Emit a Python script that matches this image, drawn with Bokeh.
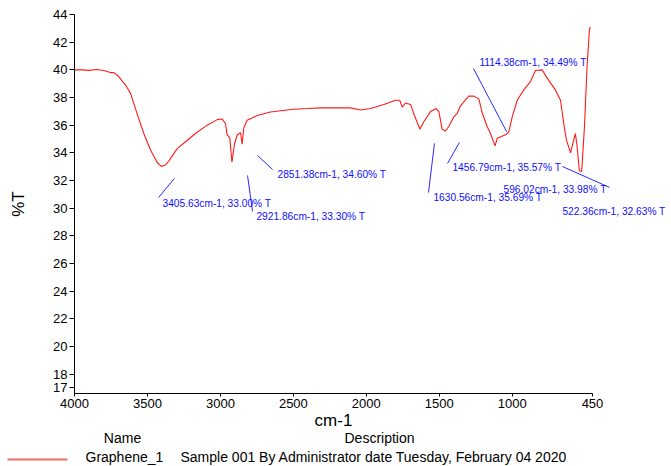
from bokeh.plotting import figure
from bokeh.models import Range1d, FixedTicker, ColumnDataSource
from bokeh.core.properties import value
from bokeh.embed import file_html
from bokeh.resources import INLINE

# ---- spectrum data ----
wavenumber = [4000, 3950, 3900, 3850, 3800, 3753, 3730, 3700, 3650, 3616, 3570, 3525,
              3479, 3433, 3405, 3380, 3354, 3296, 3239, 3171, 3091, 3022, 2988, 2965,
              2954, 2936, 2921, 2904, 2885, 2862, 2851, 2840, 2817, 2748, 2657, 2500,
              2400, 2314, 2200, 2109, 2040, 1971, 1880, 1800, 1771, 1754, 1732, 1697,
              1670, 1633, 1606, 1560, 1521, 1503, 1480, 1458, 1435, 1400, 1377, 1355,
              1298, 1264, 1229, 1206, 1172, 1149, 1118, 1103, 1046, 1024, 1000, 966,
              921, 875, 841, 795, 761, 704, 669, 647, 628, 600, 589, 567, 555, 540,
              524, 505, 487, 471, 465]
transmittance = [40.0, 40.0, 39.96, 40.02, 39.95, 39.8, 39.8, 39.55, 38.9, 38.3, 36.8, 35.4,
                 34.2, 33.3, 33.02, 33.1, 33.4, 34.3, 34.8, 35.4, 36.0, 36.4, 36.45, 36.1,
                 35.3, 35.1, 33.32, 34.6, 35.3, 35.45, 34.62, 35.8, 36.35, 36.7, 36.95, 37.15,
                 37.2, 37.25, 37.25, 37.25, 37.1, 37.2, 37.5, 37.8, 37.8, 37.3, 37.6, 37.5,
                 36.7, 35.7, 36.25, 36.98, 37.2, 36.98, 35.7, 35.58, 35.9, 36.6, 36.86, 37.4,
                 38.1, 38.1, 37.9, 36.9, 35.9, 35.4, 34.5, 35.05, 35.3, 35.5, 36.6, 37.8,
                 38.55, 39.15, 39.95, 40.0, 39.4, 38.55, 37.8, 36.1, 34.9, 34.0, 34.5, 35.4,
                 34.4, 32.7, 32.65, 35.9, 40.3, 42.9, 43.1]

x_ticks = [4000, 3500, 3000, 2500, 2000, 1500, 1000, 450]
y_ticks = [17, 18, 20, 22, 24, 26, 28, 30, 32, 34, 36, 38, 40, 42, 44]

peak_labels = ["3405.63cm-1, 33.00% T", "2921.86cm-1, 33.30% T", "2851.38cm-1, 34.60% T",
               "1630.56cm-1, 35.69% T", "1456.79cm-1, 35.57% T", "1114.38cm-1, 34.49% T",
               "596.02cm-1, 33.98% T", "522.36cm-1, 32.63% T"]

legend_header = ["Name", "Description"]
legend_name = ["Graphene_1"]
legend_desc = ["Sample 001 By Administrator date Tuesday, February 04 2020"]

# ---- axis extents ----
X_HI, X_LO = 4000, 450
Y_LO, Y_HI = 16.6, 44.0

# ---- layout of the peak annotations (label anchors and leader lines) ----
label_x = [3397, 2753, 2609, 1540, 1410, 1225, 1060, 656]
label_y = [30.34, 29.40, 32.44, 30.77, 32.94, 40.53, 31.35, 29.76]
lead_x0 = [3424, 2814, 2746, 1533, 1362, 1266, 656]
lead_y0 = [30.77, 32.36, 33.81, 34.68, 34.75, 40.10, 33.01]
lead_x1 = [3315, 2780, 2643, 1574, 1444, 1039, 334]
lead_y1 = [32.15, 29.76, 32.80, 31.13, 33.23, 35.54, 31.50]

# page layout: the plotting area spans pixels 74..592 (x) and 14..393 (y)
W, H = 670, 466
AX_L, AX_R, AX_T, AX_B = 74, 592, 14, 393
kx = (X_HI - X_LO) / (AX_R - AX_L)
ky = (Y_HI - Y_LO) / (AX_B - AX_T)

def sx(px):
    return X_HI - (px - AX_L) * kx

def sy(py):
    return Y_LO + (AX_B - py) * ky

FONT = "Liberation Sans"

p = figure(width=W, height=H,
           x_range=Range1d(sx(0), sx(W)), y_range=Range1d(sy(H), sy(0)),
           output_backend="svg", toolbar_location=None, min_border=0,
           min_border_left=0, min_border_right=0, min_border_top=0, min_border_bottom=0)
p.outline_line_color = None
p.grid.visible = False
p.background_fill_color = "white"

# axes, drawn at fixed data locations inside the canvas
p.xaxis.fixed_location = Y_LO
p.yaxis.fixed_location = X_HI
p.xaxis.ticker = FixedTicker(ticks=x_ticks)
p.xaxis.bounds = (X_LO, X_HI)
p.yaxis.ticker = FixedTicker(ticks=y_ticks)
p.yaxis.bounds = (Y_LO, Y_HI)
for ax in (p.xaxis[0], p.yaxis[0]):
    ax.axis_line_color = "black"
    ax.major_tick_line_color = "black"
    ax.minor_tick_line_color = None
    ax.major_tick_in = 0
    ax.major_label_text_font = FONT
    ax.major_label_text_font_size = "13px"
    ax.major_label_text_color = "black"
    ax.major_label_standoff = 2
    ax.axis_label_text_font = FONT
    ax.axis_label_text_font_size = "17px"
    ax.axis_label_text_font_style = "normal"
    ax.axis_label_text_color = "black"
p.xaxis.major_tick_out = 3
p.yaxis.major_tick_out = 5
p.xaxis.axis_label = "cm-1"
p.xaxis.axis_label_standoff = 0
p.yaxis.axis_label = "%T"
p.yaxis.axis_label_standoff = 22

# spectrum
p.line(wavenumber, transmittance, line_color="#ff1a1a", line_width=1.1)

# annotation leader lines and labels
p.segment(x0=lead_x0, y0=lead_y0, x1=lead_x1, y1=lead_y1, line_color="#2a2aff", line_width=1)
src = ColumnDataSource(dict(x=label_x, y=label_y, text=peak_labels))
p.text(x="x", y="y", text="text", source=src, text_font=value(FONT),
       text_font_size="10.2px", text_color="#1010ff", text_baseline="middle", text_align="left")

# legend table under the chart
p.text(x=[sx(122), sx(379)], y=[sy(437), sy(437)], text=legend_header, text_font=value(FONT),
       text_font_size="14px", text_color="black", text_align="center", text_baseline="middle")
p.line(x=[sx(7), sx(67)], y=[sy(459), sy(459)], line_color="#f26b6b", line_width=2)
p.text(x=[sx(85)], y=[sy(456)], text=legend_name, text_font=value(FONT),
       text_font_size="14px", text_color="black", text_align="left", text_baseline="middle")
p.text(x=[sx(180)], y=[sy(456)], text=legend_desc, text_font=value(FONT),
       text_font_size="14px", text_color="black", text_align="left", text_baseline="middle")

open("out.html", "w").write(file_html(p, INLINE))
